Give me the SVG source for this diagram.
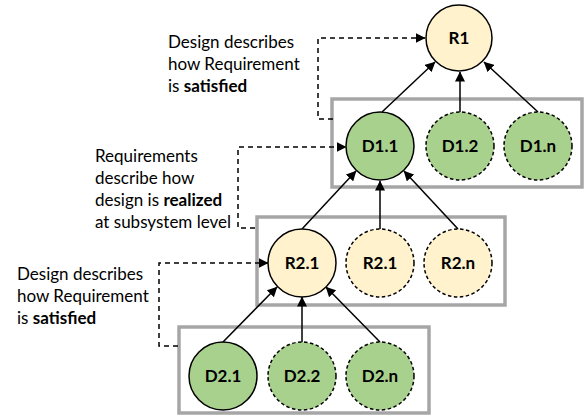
<svg xmlns="http://www.w3.org/2000/svg" width="585" height="418" viewBox="0 0 585 418">
<style>
.box{fill:none;stroke:#a6a6a6;stroke-width:3.5}
.g{fill:#a9d18e;stroke:#000;stroke-width:1.5}
.y{fill:#fff2cc;stroke:#000;stroke-width:1.5}
.d{stroke-dasharray:3.5,2.5}
.lbl{font-family:Lato,"Open Sans",sans-serif;font-size:17px;font-weight:bold;text-anchor:middle;fill:#000}
.t{font-family:Lato,"Open Sans",sans-serif;font-size:17px;fill:#000}
.c{fill:none;stroke:#000;stroke-width:1.5}
.dc{fill:none;stroke:#000;stroke-width:1.5;stroke-dasharray:5,4}
</style>
<defs>
<marker id="ah" viewBox="0 0 10 10" refX="9.5" refY="5" markerWidth="10" markerHeight="10" markerUnits="userSpaceOnUse" orient="auto">
<path d="M0,0 L10,5 L0,10 z" fill="#000"/>
</marker>
</defs>
<g id="boxes">
<rect class="box" x="332" y="99" width="250" height="88"/>
<rect class="box" x="257" y="217" width="248" height="88"/>
<rect class="box" x="179" y="327" width="250" height="86"/>
</g>
<g id="connectors">
<line class="c" x1="382" y1="112" x2="435" y2="62" marker-end="url(#ah)"/>
<line class="c" x1="460" y1="112" x2="460" y2="72" marker-end="url(#ah)"/>
<line class="c" x1="538" y1="112" x2="484" y2="62" marker-end="url(#ah)"/>
<line class="c" x1="302" y1="229" x2="356" y2="171" marker-end="url(#ah)"/>
<line class="c" x1="380" y1="229" x2="380" y2="181" marker-end="url(#ah)"/>
<line class="c" x1="458" y1="229" x2="404" y2="171" marker-end="url(#ah)"/>
<line class="c" x1="223" y1="342" x2="277" y2="287" marker-end="url(#ah)"/>
<line class="c" x1="302" y1="342" x2="302" y2="297" marker-end="url(#ah)"/>
<line class="c" x1="380" y1="342" x2="326" y2="287" marker-end="url(#ah)"/>
<path class="dc" d="M333,119 H318 V38 H425" marker-end="url(#ah)"/>
<path class="dc" d="M255,228 H238 V147 H346" marker-end="url(#ah)"/>
<path class="dc" d="M178,346 H159 V263 H268" marker-end="url(#ah)"/>
</g>
<g id="R1"><circle class="y" cx="459" cy="38" r="33"/><text class="lbl" x="459" y="44">R1</text></g>
<g id="D1.1"><circle class="g" cx="380" cy="146" r="34"/><text class="lbl" x="380" y="152">D1.1</text></g>
<g id="D1.2"><circle class="g d" cx="460" cy="146" r="34"/><text class="lbl" x="460" y="152">D1.2</text></g>
<g id="D1.n"><circle class="g d" cx="538" cy="146" r="34"/><text class="lbl" x="538" y="152">D1.n</text></g>
<g id="R2.1a"><circle class="y" cx="302" cy="263" r="34"/><text class="lbl" x="302" y="269">R2.1</text></g>
<g id="R2.1b"><circle class="y d" cx="380" cy="263" r="34"/><text class="lbl" x="380" y="269">R2.1</text></g>
<g id="R2.n"><circle class="y d" cx="458" cy="263" r="34"/><text class="lbl" x="458" y="269">R2.n</text></g>
<g id="D2.1"><circle class="g" cx="223" cy="376" r="34"/><text class="lbl" x="223" y="382">D2.1</text></g>
<g id="D2.2"><circle class="g d" cx="302" cy="376" r="34"/><text class="lbl" x="302" y="382">D2.2</text></g>
<g id="D2.n"><circle class="g d" cx="380" cy="376" r="34"/><text class="lbl" x="380" y="382">D2.n</text></g>
<g id="note1">
<text class="t" x="168" y="48">Design describes</text>
<text class="t" x="168" y="70">how Requirement</text>
<text class="t" x="168" y="92">is <tspan font-weight="bold">satisfied</tspan></text>
</g>
<g id="note2">
<text class="t" x="95" y="162">Requirements</text>
<text class="t" x="95" y="184">describe how</text>
<text class="t" x="95" y="206">design is <tspan font-weight="bold">realized</tspan></text>
<text class="t" x="95" y="228">at subsystem level</text>
</g>
<g id="note3">
<text class="t" x="17" y="280">Design describes</text>
<text class="t" x="17" y="302">how Requirement</text>
<text class="t" x="17" y="324">is <tspan font-weight="bold">satisfied</tspan></text>
</g>
</svg>
